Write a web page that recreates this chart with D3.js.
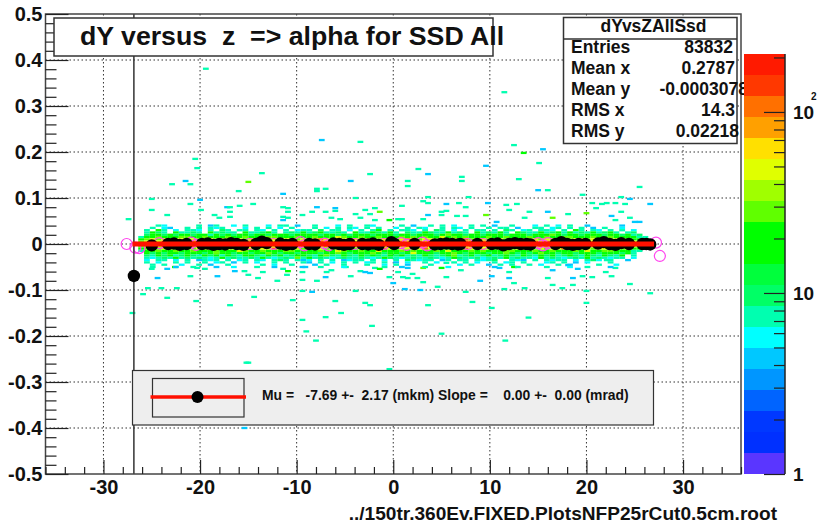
<!DOCTYPE html>
<html>
<head>
<meta charset="utf-8">
<script src="https://d3js.org/d3.v7.min.js"></script>
<style>
body { margin: 0; background: #fff; }
text { font-family: "Liberation Sans", Arial, sans-serif; font-weight: bold; fill: #111; white-space: pre; }
.domain { display: none; }
.tick line { stroke: #222; stroke-width: 1.2; }
</style>
</head>
<body>
<div id="chart"></div>
<script>
// axis ticks
var xTicks = [-30, -20, -10, 0, 10, 20, 30];
var yTicks = [-0.5, -0.4, -0.3, -0.2, -0.1, 0, 0.1, 0.2, 0.3, 0.4, 0.5];

// palette, bottom to top
var palette = ['#5a36ff','#0030ff','#0038ff','#0064ff','#0096ff','#00c8ff','#00ffff','#00ffb0','#00ff66','#00ff3c',
  '#00ff00','#00ff00','#60ff00','#a0ff00','#e0ff00','#ffe000','#ffa000','#ff7000','#ff3800','#ff1a00'];
var levelKeys = 'sctmglyor';
var levelCounts = [4.4, 5.6, 7.5, 9.6, 19, 28, 48, 106, 181];

// dense core of the histogram, one string per dY bin, one letter per z bin
var coreRowY = [0.04, 0.035, 0.03, 0.025, 0.02, 0.015, 0.01, 0.005, 0, -0.005, -0.01, -0.015, -0.02, -0.025, -0.03, -0.035, -0.04, -0.045, -0.05];
var coreRows = [
  "....tc.... .t.st..c.t ...c.tt.s. .t...c.t.. tc....t.s. .t.t.c..t. t.s..t...c .t.c.t..s. ....s.....",
  "...t.cs..t .t.tct...c .t.t.c.t.. .t.c.t.tc. t.t..c.t.t c..t.tc.t. .t.tt.s..t t.ct.t.t.s .t..c.....",
  "..t.gt.c.t tc.t.mt.tt .tc.t.t.ct t.m.tt.c.t .tg.t.ttc. t.mt.c.t.t t.t.mt.ct. ttc.t.gt.t c.t.t.c...",
  "..tgmt.gtt mt.gtmtt.g ttmgt.tmtg tmgttmt.gt tgmtgt.mtt gmttgtmt.g tmtgt.gmtt gtmgtgtmtg tmgt.tm...",
  "..mggmgmgg mggtgmgmgg mggmgggmgg ggmggmgmgg gmgggmggmg ggmglggmgg mgggmgggmg gglgmggmgg gmggmgtm..",
  ".tgglgggll gglggglggl gggllggglg glgggylggl gglggglglg lggyglglgg glgglggglg glggllgggl gglggggtt.",
  ".glylylyyl ylyylyyoyl yylyylyyly lyoylyyoyl yylyylyoyl yylylyyoly ylyylyyyly lyyoylyyly yylyylggl.",
  ".lyoyoyooy oyoyoooyoy ooyoyooyoy oyooyoooyo ooyooyoyoo yooyooyooy oyooyooyoo yooyoyoooy oyoyoyyly.",
  ".yoorroroo rorooroorr orooroorro roorroorro orroorroro rroorororo orroroorro orroorooro rooroooyo.",
  ".lyoyooyoy ooyoyoyooy oyooyooyoo yoyoooyooy oyoyooyoyo oyoooyoyoo yoyooyoooy ooyoyoooyo yoyooyyly.",
  ".glylyylyy lyyoylyyly ylyyoylyyl yoylyyoyly ylyoylyyly oylylyyoyl yylyylyoyl ylyyoylyyl yylylyggl.",
  ".tgglgglgg lggglgggyl gglgggllgg gglggylggl ggyggglglg gglgyggglg lgggllgggl gglggglgyg gllgggtt..",
  "..gmgmggmg ggmglggmgg mgglgmggmg ggmgglgmgg glgmggmgyg ggmgglgmgg gmgglgmgmg lggmggmggg mgggmgt...",
  "..mtgmgtmg mtgmgtgmtg gmtgmgtmgg mtglmtgmtg mgmtgmgtmt gmtmgltmgt mgtmgmtgmt gmgtmgmtgm tgmtg.t...",
  "..tctmtgtm tmtctgtmtt mtgtctmtlt gtmtctmttm tctgmtctmt tmtctgmttm ctmtgtmttc gtmtctmtgt mtctt.c...",
  "..c.tt.c.t .stct.t.ct .tc.tmt.ts c.t.t.sctt .t.c.t.mtc tt.st.tt.t ctm..tcs.t .tctt.c.tm c.t..s....",
  "..t.c..t.t ..t.ct.s.t .c..t.t..t s.t.c.t.t. ct.t.s.c.. t.c..t.t.c ..t.ct.t.. .ct.t.s.c. ..t.......",
  "...t.t..c. .t.s..t... ..t.c..t.. .s.t..t... t..c.t.s.. .t....c.t. .s.t.t..t. c..t.s.... t..c......",
  "...t...s.. t......c.. .t..s..... ..t...c... ...t..s... t...c..... ..s...t... .t...c..t. ..s......."
];

// isolated bins read one by one: z, dY, level
var sparseCells = [
  [-19.4,.381,'t'],[-20.5,.185,'t'],[-20.3,.165,'t'],[11.5,.330,'t'],[12.5,.215,'t'],[13.5,.198,'g'],[15.5,.206,'s'],[15.1,.176,'t'],
  [-7.4,.226,'s'],[-3.4,.222,'t'],[9.6,.170,'s'],[2.6,.163,'t'],
  [-22.9,.130,'t'],[-21.5,.137,'s'],[-21,.130,'t'],[-15,.135,'l'],[-16,.115,'t'],[-25,.098,'t'],[-20,.096,'s'],[-21,.087,'t'],
  [-25,.074,'t'],[-23.4,.063,'t'],[-27.4,.054,'t'],[-17.2,.080,'s'],[-16.9,.080,'t'],[-15.9,.083,'t'],[-14.5,.087,'t'],[-19.9,.074,'t'],
  [-18.5,.063,'t'],[-18,.057,'t'],[-16.9,.070,'t'],[-16.9,.059,'t'],
  [-25,-.054,'t'],[-23.4,-.054,'s'],[-22.6,-.050,'g'],[-24.4,-.074,'s'],[-21,-.070,'t'],[-20.3,-.052,'t'],[-19.5,-.054,'t'],[-18.3,-.050,'s'],
  [-18.2,-.070,'s'],[-16.4,-.059,'s'],[-15.4,-.059,'t'],[-15,-.067,'t'],[-14,-.074,'t'],[-25.4,-.096,'t'],[-24,-.096,'t'],[-22.4,-.096,'t'],
  [-25.9,-.109,'t'],[-23.4,-.117,'t'],[-20.4,-.124,'t'],[-16.9,-.133,'t'],[-14.4,-.115,'t'],[-27,-.150,'t'],
  [-13.6,.154,'t'],[-2.4,.152,'t'],[-4.4,.137,'s'],[-7.9,.120,'t'],[-7.9,.115,'t'],[-7,.120,'t'],[-11.4,.109,'s'],[-3.9,.100,'t'],
  [-11.4,.080,'t'],[-10.9,.078,'t'],[-10.9,.070,'t'],[-7.9,.080,'s'],[-6,.078,'s'],[-6,.072,'t'],[-8.4,.070,'t'],[-7,.070,'t'],[-9.4,.063,'t'],
  [-3.9,.065,'t'],[-2.9,.074,'t'],[-1.9,.078,'t'],[-1.4,.070,'l'],[-2.4,.065,'t'],[-11.4,.059,'t'],[-10.9,.057,'t'],[-11.4,.052,'s'],[-6.4,.057,'t'],
  [-5.5,.054,'t'],[-3.4,.057,'t'],[-1.9,.052,'t'],[-.4,.052,'g'],[.5,.054,'t'],
  [-13.5,-.061,'t'],[-11.4,-.054,'t'],[-10.9,-.059,'g'],[-11,-.067,'t'],[-12,-.080,'t'],[-9.4,-.050,'s'],[-9.1,-.050,'s'],[-9.4,-.061,'t'],[-9.4,-.078,'t'],
  [-7.9,-.080,'t'],[-6.9,-.061,'t'],[-7,-.072,'s'],[-6.4,-.057,'t'],[-4.9,-.050,'t'],[-4.4,-.070,'t'],[-3.4,-.059,'t'],[-2.9,-.061,'s'],[-2.4,-.063,'s'],
  [-1.9,-.052,'t'],[-1.4,-.054,'g'],[-.4,-.072,'t'],[-.0,-.085,'s'],[.5,-.061,'t'],[-3.9,-.102,'t'],[-8.4,-.104,'s'],[-9.4,-.102,'t'],[-10.4,-.122,'t'],
  [-6,-.124,'t'],[-2.9,-.128,'t'],[-2.4,-.133,'t'],[-5.4,-.150,'t'],[-7,-.159,'t'],[-9.4,-.165,'t'],
  [3.6,.152,'s'],[1.5,.137,'t'],[1.5,.126,'t'],[7.1,.146,'t'],[7.1,.137,'t'],[13,.141,'t'],[15,.117,'s'],[3.6,.102,'t'],[7.8,.102,'t'],
  [3.1,.093,'t'],[3.6,.089,'t'],[5.5,.087,'s'],[6.8,.089,'t'],[7.5,.080,'t'],[.9,.083,'t'],[9.8,.089,'s'],[11.7,.085,'t'],[12.8,.087,'t'],
  [12,.074,'t'],[14.1,.070,'t'],[5.5,.072,'t'],[5,.070,'t'],[5,.063,'t'],[6.6,.061,'t'],[7.5,.061,'t'],[9.6,.063,'l'],[10.7,.048,'s'],
  [13.6,.057,'t'],[3.6,.063,'s'],[3.1,.054,'t'],[.9,.054,'t'],
  [1.5,-.052,'s'],[1,-.072,'t'],[2,-.065,'t'],[1.5,-.074,'t'],[2.5,-.074,'t'],[3.1,-.083,'t'],[3.1,-.052,'l'],[5,-.052,'g'],[5.5,-.072,'t'],[7,-.057,'t'],
  [5.5,-.041,'t'],[9,-.080,'s'],[12,-.074,'s'],[12.5,-.085,'t'],[13.6,-.096,'t'],[11,-.052,'s'],[12.5,-.050,'g'],[12,-.061,'t'],[10.2,-.070,'s'],
  [1.2,-.098,'s'],[2.8,-.100,'s'],[4.6,-.093,'t'],[7.5,-.104,'t'],[11.5,-.098,'t'],[8.2,-.126,'t'],[3.6,-.133,'t'],[10.2,-.139,'t'],
  [25.5,.124,'t'],[16,.117,'t'],[19.6,.107,'t'],[23.6,.102,'t'],[24.5,.098,'s'],[26.6,.087,'s'],[20.6,.089,'t'],[21.6,.087,'t'],[22.1,.089,'t'],
  [23,.089,'t'],[24,.087,'t'],[21,.078,'t'],[16,.070,'s'],[18.1,.065,'t'],[23.6,.070,'t'],[22.6,.061,'s'],[24.5,.057,'t'],[16.5,.057,'l'],
  [20,.067,'l'],[23,.052,'t'],[25.5,.048,'s'],[25,.048,'s'],
  [16,-.074,'t'],[18.6,-.074,'s'],[19.6,-.070,'t'],[20.6,-.072,'t'],[22.6,-.070,'t'],[24.5,-.087,'t'],[16.5,-.089,'t'],[17.5,-.096,'t'],[18.6,-.089,'t'],
  [22,-.061,'t'],[23,-.052,'t'],[20,-.102,'t'],[26.6,-.107,'t'],[20,-.128,'t'],[16.5,-.057,'s'],[18.1,-.046,'s'],[19.1,-.054,'s'],[22.1,-.035,'t'],
  [-15.2,-.258,'t'],[-15.4,-.400,'s'],[-.4,-.272,'t'],[-15,-.258,'t'],[-8,-.210,'t'],[-9,-.190,'t'],[-2.2,-.178,'t'],[5,-.195,'t'],[14,-.160,'t'],[11.6,-.210,'t']
];

// mean points per z bin
var blackZ = [-25, -23.3,-22.7,-22.1,-21.4, -19.8,-19.2,-18.6,-18,-17.4,-16.8,-16.2,-15.5, -14.2,-13.6,-13.1, -11.7,-11.1,-10.45,
  -8.7,-8.1, -6.2,-5.6,-5.1,-4.5, -3.2,-2.6,-2.1,-1.5, -0.2,0.1, 2.2, 4.3,4.9,5.5,6.1,6.7,6.95, 8.7,
  10.2,10.8,11.4,12,12.6,13.2,13.8,14.2, 16.8,17.4,18,18.6,19.2,19.9, 21.2,21.8,22.4,23,23.6,24.4, 25.8,26.2,26.6];
var blackY = [-0.003, 0,0.001,-0.002,0, 0,0.001,-0.002,0,-0.001,0.002,0,-0.002, 0,0.005,0.002, 0.001,-0.002,0,
  0,-0.001, 0.001,0,-0.002,0, 0,-0.001,0.001,-0.002, 0.004,0, 0, -0.001,0,0.001,0,-0.001,0, 0,
  0,0.001,-0.003,0,0.002,0,0,-0.001, 0,0.004,0,-0.002,0,0, 0.001,0.004,0,-0.002,0.002,0, 0,0,-0.001];
// rejected points, open circles
var openZ = [-27.6,-26.7,-26.3,-24.2,-20.9,-20.4,-14.85,-12.4,-9.6,-9.2,-7.1,-6.7,-4,-1,0.8,1.4,3,3.5,7.7,9.3,15,15.5,16,27.2,27.6];
var openY = [0,-0.008,-0.009,0.002,0.003,-0.002,0,0,0.004,-0.003,0.001,-0.003,0,0,0.002,-0.002,0.003,-0.003,0,0,0.002,-0.003,0.002,0.003,-0.026];
// lone point with its long error bar
var errZ = [-26.85], errY = [-0.0695];
// straight line fit
var fitZ = [-27, 27], fitY = [0, 0];

var statNames = ['Entries', 'Mean x', 'Mean y', 'RMS x', 'RMS y'];
var statValues = ['83832', '0.2787', '-0.0003078', '14.3', '0.02218'];
var statRight = [733, 735, 748, 735, 739];

var width = 817, height = 526;
var svg = d3.select('#chart').append('svg').attr('width', width).attr('height', height).style('display', 'block');

var x = d3.scaleLinear().domain([-36, 36]).range([45.5, 741]);
var y = d3.scaleLinear().domain([-0.5, 0.5]).range([474, 14]);
var zTop = 209;
var z = d3.scaleLog().domain([1, zTop]).range([474, 54]);
var colour = d3.scaleQuantize().domain([0, Math.log10(zTop)]).range(palette);

svg.append('defs').append('clipPath').attr('id', 'frame').append('rect')
  .attr('x', x.range()[0]).attr('y', 14).attr('width', x.range()[1] - x.range()[0]).attr('height', 460);

// grid
var grid = svg.append('g').attr('stroke', '#333').attr('stroke-width', 1).attr('stroke-dasharray', '1.5,2.5');
grid.selectAll('.gx').data(xTicks).enter().append('line')
  .attr('x1', x).attr('x2', x).attr('y1', 14).attr('y2', 474);
grid.selectAll('.gy').data(yTicks.slice(1, -1)).enter().append('line')
  .attr('y1', y).attr('y2', y).attr('x1', x.range()[0]).attr('x2', x.range()[1]);

// histogram cells
var binW = 0.6, binH = 0.005;
var cells = [];
coreRows.forEach(function(row, j) {
  row.replace(/ /g, '').split('').forEach(function(c, i) {
    if (c != '.') cells.push([-27 + binW * i + binW / 2, coreRowY[j], c]);
  });
});
cells = sparseCells.concat(cells);
var plot = svg.append('g').attr('clip-path', 'url(#frame)');
plot.selectAll('.cell').data(cells).enter().append('rect')
  .attr('x', function(d) { return x(d[0] - binW / 2); })
  .attr('y', function(d) { return y(d[1] + binH / 2); })
  .attr('width', x(binW) - x(0))
  .attr('height', y(0) - y(binH))
  .attr('fill', function(d) { return colour(Math.log10(levelCounts[levelKeys.indexOf(d[2])])); });

// points
plot.selectAll('.open').data(openZ).enter().append('circle')
  .attr('cx', function(d) { return x(d); })
  .attr('cy', function(d, i) { return y(openY[i]); })
  .attr('r', 5.5).attr('fill', 'none').attr('stroke', '#ff44ee').attr('stroke-width', 1.2);
plot.append('line')
  .attr('x1', x(errZ[0])).attr('x2', x(errZ[0])).attr('y1', y(-0.5)).attr('y2', y(0.5))
  .attr('stroke', '#333').attr('stroke-width', 1.5);
plot.selectAll('.pt').data(blackZ.concat(errZ)).enter().append('circle')
  .attr('cx', function(d) { return x(d); })
  .attr('cy', function(d, i) { return y(blackY.concat(errY)[i]); })
  .attr('r', 6.2).attr('fill', '#000');
plot.append('line')
  .attr('x1', x(fitZ[0])).attr('x2', x(fitZ[1])).attr('y1', y(fitY[0])).attr('y2', y(fitY[1]))
  .attr('stroke', '#ff1000').attr('stroke-width', 5);

// frame and axes
svg.append('rect').attr('x', x.range()[0]).attr('y', 14)
  .attr('width', x.range()[1] - x.range()[0]).attr('height', 460)
  .attr('fill', 'none').attr('stroke', '#444').attr('stroke-width', 1.5);

function fmt(d) { return String(d); }
var yMinor = d3.range(-25, 26).map(function(d) { return d / 50; }).filter(function(d) { return Math.abs(Math.round(d * 10) - d * 10) > 0.01; });
svg.append('g').attr('transform', 'translate(' + x.range()[0] + ',0)')
  .call(d3.axisLeft(y).tickValues(yMinor).tickSizeInner(-11).tickSizeOuter(0).tickFormat(''));
var yAxis = svg.append('g').attr('transform', 'translate(' + x.range()[0] + ',0)')
  .call(d3.axisLeft(y).tickValues(yTicks).tickSizeInner(-23).tickSizeOuter(0).tickPadding(3).tickFormat(fmt));
yAxis.selectAll('text').style('font-size', '20px').style('font-family', '"Liberation Sans"');

var xMinor = d3.range(-36, 37, 2).filter(function(d) { return d % 10 != 0; });
svg.append('g').attr('transform', 'translate(0,474)')
  .call(d3.axisBottom(x).tickValues(xMinor).tickSizeInner(-7).tickSizeOuter(0).tickFormat(''));
var xAxis = svg.append('g').attr('transform', 'translate(0,474)')
  .call(d3.axisBottom(x).tickValues(xTicks).tickSizeInner(-14).tickSizeOuter(0).tickPadding(6).tickFormat(fmt));
xAxis.selectAll('text').style('font-size', '20px').style('font-family', '"Liberation Sans"');

svg.append('text').attr('x', 777).attr('y', 520).attr('text-anchor', 'end')
  .style('font-size', '19.1px').text('../150tr.360Ev.FIXED.PlotsNFP25rCut0.5cm.root');

// title box
svg.append('rect').attr('x', 54).attr('y', 18).attr('width', 439).attr('height', 38)
  .attr('fill', '#fff').attr('stroke', '#333').attr('stroke-width', 1.5);
svg.append('text').attr('x', 80).attr('y', 45).style('font-size', '26.7px')
  .text('dY versus  z  => alpha for SSD All');

// stats box
svg.append('rect').attr('x', 563.5).attr('y', 17.5).attr('width', 173.5).attr('height', 126)
  .attr('fill', '#fff').attr('stroke', '#333').attr('stroke-width', 1.5);
svg.append('line').attr('x1', 563.5).attr('x2', 737).attr('y1', 39).attr('y2', 39)
  .attr('stroke', '#333').attr('stroke-width', 1.5);
svg.append('text').attr('x', 653.5).attr('y', 32).attr('text-anchor', 'middle').style('font-size', '17.5px').text('dYvsZAllSsd');
statNames.forEach(function(name, i) {
  svg.append('text').attr('x', 571).attr('y', 53 + 21 * i).style('font-size', '17.5px').text(name);
  svg.append('text').attr('x', statRight[i]).attr('y', 53 + 21 * i).attr('text-anchor', 'end')
    .style('font-size', '17.5px').text(statValues[i]);
});

// legend box
svg.append('rect').attr('x', 132.5).attr('y', 370.5).attr('width', 521).attr('height', 54.5)
  .attr('fill', '#eeeeee').attr('stroke', '#333').attr('stroke-width', 1.2);
svg.append('rect').attr('x', 152.5).attr('y', 378.5).attr('width', 91.5).attr('height', 38.5)
  .attr('fill', 'none').attr('stroke', '#333').attr('stroke-width', 1.2);
svg.append('line').attr('x1', 150.5).attr('x2', 246).attr('y1', 397).attr('y2', 397)
  .attr('stroke', '#ff1000').attr('stroke-width', 3.5);
svg.append('circle').attr('cx', 197.5).attr('cy', 397).attr('r', 6).attr('fill', '#000');
svg.append('text').attr('x', 262).attr('y', 400).style('font-size', '13.9px')
  .text('Mu =   -7.69 +-  2.17 (mkm) Slope =    0.00 +-  0.00 (mrad)');

// palette
var levels = d3.range(palette.length);
var bandEdge = function(i) { return Math.pow(10, i * Math.log10(zTop) / palette.length); };
svg.selectAll('.band').data(levels).enter().append('rect')
  .attr('x', 744).attr('width', 41)
  .attr('y', function(d) { return z(bandEdge(d + 1)); })
  .attr('height', function(d) { return z(bandEdge(d)) - z(bandEdge(d + 1)); })
  .attr('fill', function(d) { return palette[d]; });
var zMinor = [2, 3, 4, 5, 6, 7, 8, 9, 20, 30, 40, 50, 60, 70, 80, 90, 200];
var zMajor = [1, 10, 100];
var zg = svg.append('g').attr('transform', 'translate(785,0)');
zg.call(d3.axisRight(z).tickValues(zMinor).tickSizeInner(-11).tickSizeOuter(0).tickFormat(''));
var zg2 = svg.append('g').attr('transform', 'translate(785,0)');
zg2.call(d3.axisRight(z).tickValues(zMajor).tickSizeInner(-21).tickSizeOuter(0).tickPadding(8)
  .tickFormat(function(d) { return d == 1 ? '1' : '10'; }));
zg2.selectAll('text').style('font-size', '19px').style('font-family', '"Liberation Sans"');
svg.append('line').attr('x1', 785).attr('x2', 785).attr('y1', 54).attr('y2', 474).attr('stroke', '#222').attr('stroke-width', 1.5);
svg.append('text').attr('x', 811).attr('y', 100).style('font-size', '10px').text('2');
</script>
</body>
</html>
